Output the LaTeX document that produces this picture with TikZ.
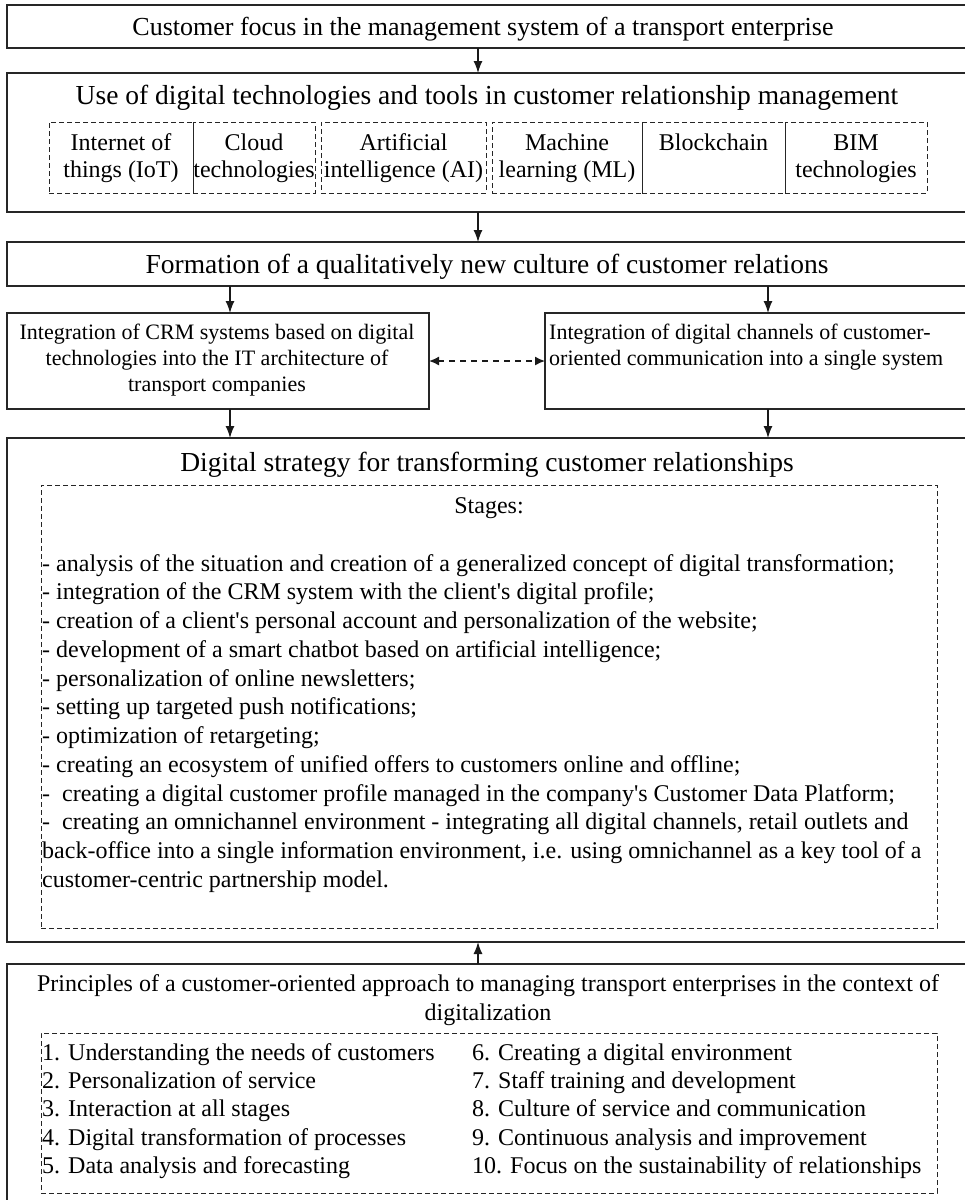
\documentclass[tikz,border=0pt]{standalone}
\usepackage{fontspec}
\setmainfont{Liberation Serif}
\usetikzlibrary{arrows.meta}
\newcommand{\tstrut}{\rule{0pt}{20pt}}
\newcommand{\ap}{\textquotesingle}
\begin{document}
\begin{tikzpicture}[x=1pt,y=-1pt,
  solidbox/.style={draw=black!85,line width=1.5pt,inner sep=0pt,outer sep=0pt},
  dbox/.style={draw=black!85,line width=1pt,dash pattern=on 5pt off 3pt,inner sep=0pt,outer sep=0pt},
  arr/.style={draw=black!90,line width=1.3pt,-{Latex[length=12pt,width=9pt]}},
  darr/.style={draw=black!90,line width=1.5pt,dash pattern=on 6pt off 5pt,{Latex[length=10pt,width=9pt]}-{Latex[length=10pt,width=9pt]}},
  ttl/.style={font=\fontsize{27.5}{32}\selectfont,anchor=base,inner sep=0pt},
  ttlA/.style={font=\fontsize{26}{30}\selectfont,anchor=base,inner sep=0pt},
  body/.style={font=\fontsize{24}{28.75}\selectfont,inner sep=0pt},
  cell/.style={font=\fontsize{24}{27}\selectfont,inner sep=0pt,align=center,anchor=north},
  small/.style={font=\fontsize{22}{26}\selectfont,inner sep=0pt},
]
\useasboundingbox (0,0) rectangle (965,1200);
\coordinate (axis) at (478,0);
\coordinate (la) at (230,0);
\coordinate (ra) at (768,0);

% boxes
\node[solidbox,minimum width=961pt,minimum height=43pt] (b1) at (487.5,26.5) {};
\node[solidbox,minimum width=961pt,minimum height=139pt] (b2) at (487.5,142.5) {};
\node[solidbox,minimum width=961pt,minimum height=44pt] (b3) at (487.5,264) {};
\node[solidbox,minimum width=422pt,minimum height=96pt] (b4a) at (218,361) {};
\node[solidbox,minimum width=423pt,minimum height=96pt] (b4b) at (756.5,361) {};
\node[solidbox,minimum width=961pt,minimum height=504pt] (b5) at (487.5,690) {};
\node[solidbox,minimum width=961pt,minimum height=241pt] (b6) at (487.5,1084.5) {};

% dashed inner frames
\node[dbox,minimum width=896pt,minimum height=443pt] (d5) at (489,706.5) {};
\node[dbox,minimum width=896pt,minimum height=160pt] (d6) at (489,1113) {};

% technology cells
\node[dbox,minimum width=144pt,minimum height=71pt] (c1) at (121,157.5) {};
\node[dbox,minimum width=122pt,minimum height=71pt] (c2) at (254,157.5) {};
\node[dbox,minimum width=165pt,minimum height=71pt] (c3) at (403.5,157.5) {};
\node[dbox,minimum width=150pt,minimum height=71pt] (c4) at (567,157.5) {};
\node[dbox,minimum width=143pt,minimum height=71pt] (c5) at (713.5,157.5) {};
\node[dbox,minimum width=142pt,minimum height=71pt] (c6) at (856,157.5) {};

\node[cell] (t1) at (121,130.5) {\tstrut Internet of\\things (IoT)};
\node[cell] (t2) at (254,130.5) {\tstrut Cloud\\technologies};
\node[cell] (t3) at (403.5,130.5) {\tstrut Artificial\\intelligence (AI)};
\node[cell] (t4) at (567,130.5) {\tstrut Machine\\learning (ML)};
\node[cell] (t5) at (713.5,130.5) {\tstrut Blockchain};
\node[cell] (t6) at (856,130.5) {\tstrut BIM\\technologies};

% titles
\node[ttlA] (h1) at (483,35) {Customer focus in the management system of a transport enterprise};
\node[ttl] (h2) at (487,104) {Use of digital technologies and tools in customer relationship management};
\node[ttl] (h3) at (487,273) {Formation of a qualitatively new culture of customer relations};
\node[ttl] (h5) at (487,471) {Digital strategy for transforming customer relationships};

% box 4 texts
\node[small,align=center,anchor=north] (t4a) at (217,319.5) {\tstrut Integration of CRM systems based on digital\\technologies into the IT architecture of\\transport companies};
\node[small,align=left,anchor=north west] (t4b) at (549,319.5) {\tstrut Integration of digital channels of customer-\\oriented communication into a single system};

% stages
\node[body,anchor=base] (st) at (489,513) {Stages:};
\node[body,align=left,anchor=north west] (sl) at (42,551) {\tstrut - analysis of the situation and creation of a generalized concept of digital transformation;\\
- integration of the CRM system with the client\ap s digital profile;\\
- creation of a client\ap s personal account and personalization of the website;\\
- development of a smart chatbot based on artificial intelligence;\\
- personalization of online newsletters;\\
- setting up targeted push notifications;\\
- optimization of retargeting;\\
- creating an ecosystem of unified offers to customers online and offline;\\
-\ \ creating a digital customer profile managed in the company\ap s Customer Data Platform;\\
-\ \ creating an omnichannel environment - integrating all digital channels, retail outlets and\\
back-office into a single information environment, i.e. using omnichannel as a key tool of a\\
customer-centric partnership model.};

% principles
\node[body,align=center,anchor=north,font=\fontsize{24}{29}\selectfont] (pt) at (488,971) {\tstrut Principles of a customer-oriented approach to managing transport enterprises in the context of\\digitalization};
\node[body,align=left,anchor=north west,font=\fontsize{24}{28.3}\selectfont] (pl) at (42,1040) {\tstrut 1. Understanding the needs of customers\\2. Personalization of service\\3. Interaction at all stages\\4. Digital transformation of processes\\5. Data analysis and forecasting};
\node[body,align=left,anchor=north west,font=\fontsize{24}{28.3}\selectfont] (pr) at (472,1040) {\tstrut 6. Creating a digital environment\\7. Staff training and development\\8. Culture of service and communication\\9. Continuous analysis and improvement\\10. Focus on the sustainability of relationships};

% connectors
\draw[arr] (b1.south -| axis) -- (b2.north -| axis);
\draw[arr] (b2.south -| axis) -- (b3.north -| axis);
\draw[arr] (b3.south -| la) -- (b4a.north -| la);
\draw[arr] (b3.south -| ra) -- (b4b.north -| ra);
\draw[arr] (b4a.south -| la) -- (b5.north -| la);
\draw[arr] (b4b.south -| ra) -- (b5.north -| ra);
\draw[darr] (b4a.east) -- (b4b.west);
\draw[arr] (b6.north -| axis) -- (b5.south -| axis);
\end{tikzpicture}
\end{document}
